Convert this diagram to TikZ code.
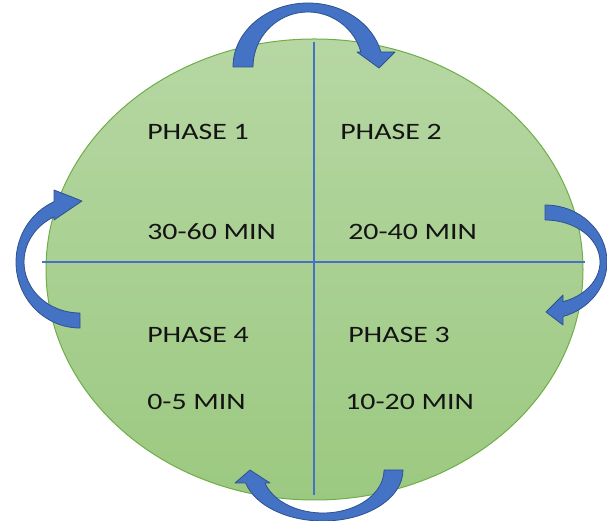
\documentclass[tikz,border=0pt]{standalone}
\usepackage{fontspec}
\setmainfont{Carlito}
\definecolor{grtop}{HTML}{B6D7A3}
\definecolor{grbot}{HTML}{9CC981}
\definecolor{grline}{HTML}{70AD47}
\definecolor{bluefill}{HTML}{4472C4}
\definecolor{blueedge}{HTML}{2F528F}
\definecolor{txt}{HTML}{141414}
% curved arrow in local frame: tail on -x, arc over +y, head near +x pointing -y
% #1 outer a, #2 outer b, #3 inner a, #4 inner b, #5 head base y, #6 inner wing x, #7 outer wing x, #8 tip x, #9 tip y
\newcommand{\mycarrow}[9]{%
  \fill[bluefill, draw=blueedge, line width=0.8pt, line join=round]
    (-#1,0) arc[start angle=180, end angle={asin(#5/#2)}, x radius=#1pt, y radius=#2pt]
    -- (#7,#5) -- (#8,#9) -- (#6,#5)
    -- ({#3*cos(asin(#5/#4))},#5)
    arc[start angle={asin(#5/#4)}, end angle=180, x radius=#3pt, y radius=#4pt]
    -- cycle;}
\tikzset{
  lbl/.style={anchor=base west, inner sep=0pt, text=txt,
    font=\fontsize{23.5}{28}\selectfont, xscale=1.27, transform shape},
  divider/.style={draw=bluefill, line width=1.1pt}
}
\begin{document}
\begin{tikzpicture}[x=1pt,y=1pt]
\useasboundingbox (0,0) rectangle (607,521);
% main ellipse
\shade[top color=grtop, bottom color=grbot]
  (314.5,251.5) ellipse[x radius=268.5pt, y radius=230.5pt];
\draw[grline, line width=1pt]
  (314.5,251.5) ellipse[x radius=268.5pt, y radius=230.5pt];
% dividers
\coordinate (vt) at (314,479);
\coordinate (vb) at (314,26);
\coordinate (hl) at (42,259);
\coordinate (hr) at (585,259);
\draw[divider] (vt) -- (vb);
\draw[divider] (hl) -- (hr);
% labels
\node[lbl] (p1) at (147,381) {PHASE 1};
\node[lbl] (t1) at (147,281) {30-60 MIN};
\node[lbl] (p2) at (340,381) {PHASE 2};
\node[lbl] (t2) at (348,281) {20-40 MIN};
\node[lbl] (p4) at (147,178) {PHASE 4};
\node[lbl] (t4) at (147,111) {0-5 MIN};
\node[lbl] (p3) at (348,178) {PHASE 3};
\node[lbl] (t3) at (345,111) {10-20 MIN};
% curved arrows
\begin{scope}[shift={(308,454)}]
  \mycarrow{75}{64}{55}{55}{15}{49}{87}{71}{-1}
\end{scope}
\begin{scope}[shift={(545,259)}, rotate=-90]
  \mycarrow{57}{62}{42}{55}{18}{33}{63}{50}{1}
\end{scope}
\begin{scope}[shift={(323,51)}, rotate=180]
  \mycarrow{80}{51}{61}{43}{13}{53}{88}{73}{0}
\end{scope}
\begin{scope}[shift={(80,259)}, rotate=90]
  \mycarrow{66}{64}{51}{56}{26}{42}{72}{61}{-2}
\end{scope}
\end{tikzpicture}
\end{document}
